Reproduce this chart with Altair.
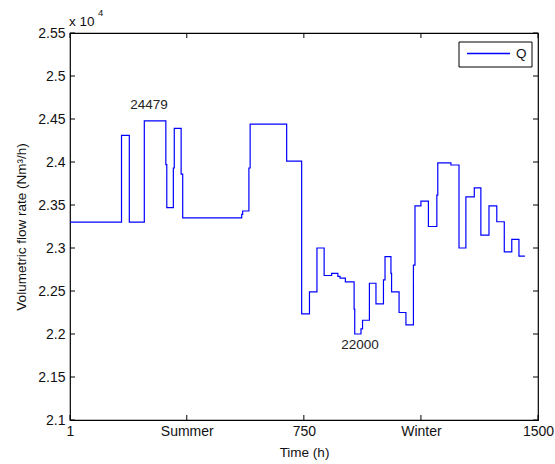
import altair as alt
import pandas as pd

# Step series (hour at which each level starts)
hours = [1, 166, 191, 239, 308, 311, 332, 335, 357, 362,
         551, 554, 574, 578, 695, 743, 768, 792, 815, 839,
         859, 866, 883, 911, 913, 933, 938, 960, 981, 1005,
         1010, 1029, 1031, 1055, 1077, 1101, 1106, 1125, 1149, 1176,
         1179, 1221, 1247, 1269, 1296, 1317, 1343, 1368, 1392, 1416,
         1439, 1458]
flow = [23300, 24310, 23300, 24479, 23970, 23470, 23930, 24390, 23860, 23350,
        23390, 23430, 23930, 24440, 24010, 22235, 22490, 23000, 22680, 22705,
        22670, 22650, 22605, 22290, 22000, 22060, 22160, 22590, 22350, 22630,
        22900, 22705, 22490, 22250, 22105, 22800, 23490, 23545, 23250, 23615,
        23990, 23965, 23000, 23595, 23700, 23150, 23490, 23305, 22955, 23100,
        22905, 22905]

x_ticks = [1, 375, 750, 1125, 1500]
x_tick_labels = ["1", "Summer", "750", "Winter", "1500"]
y_ticks = [21000, 21500, 22000, 22500, 23000, 23500, 24000, 24500, 25000, 25500]

ann_text = ["24479", "22000"]
ann_hour = [254, 930]
ann_val = [24665, 21870]

legend_label = ["Q"]

W, H = 468, 387
FONT = "Liberation Sans"
BLUE = "#0000ff"

df = pd.DataFrame({"hour": hours, "Q": flow})
xscale = alt.Scale(domain=[1, 1500], nice=False, zero=False)
yscale = alt.Scale(domain=[21000, 25500], nice=False, zero=False)

label_map = "{" + ",".join(f"'{v}':'{l}'" for v, l in zip(x_ticks, x_tick_labels)) + "}"

line = alt.Chart(df).mark_line(interpolate="step-after", color=BLUE, strokeWidth=1.2).encode(
    x=alt.X("hour:Q", scale=xscale,
            axis=alt.Axis(values=x_ticks, labelExpr=f"{label_map}[datum.value]",
                          title="Time (h)", ticks=False, domain=False, grid=False,
                          labelFont=FONT, labelFontSize=14, labelColor="#111",
                          labelPadding=4, labelFlush=False,
                          titleFont=FONT, titleFontSize=13.5, titleFontWeight="normal",
                          titleColor="#111", titleX=W / 2, titleY=32,
                          titleBaseline="middle")),
    y=alt.Y("Q:Q", scale=yscale,
            axis=alt.Axis(values=y_ticks, labelExpr="format(datum.value/10000, '~g')",
                          title="Volumetric flow rate (Nm³/h)", ticks=False, domain=False,
                          grid=False, labelFont=FONT, labelFontSize=14, labelColor="#111",
                          labelPadding=5, labelFlush=False,
                          titleFont=FONT, titleFontSize=13.5, titleFontWeight="normal",
                          titleColor="#111", titleX=-49, titleY=H / 2,
                          titleAngle=-90, titleAlign="center", titleBaseline="middle")),
)

xt = pd.DataFrame({"hour": x_ticks})
yt = pd.DataFrame({"Q": y_ticks})
tick_x_bot = alt.Chart(xt).mark_rule(color="black").encode(
    x=alt.X("hour:Q", scale=xscale), y=alt.value(H), y2=alt.value(H - 5))
tick_x_top = alt.Chart(xt).mark_rule(color="black").encode(
    x=alt.X("hour:Q", scale=xscale), y=alt.value(0), y2=alt.value(5))
tick_y_left = alt.Chart(yt).mark_rule(color="black").encode(
    y=alt.Y("Q:Q", scale=yscale), x=alt.value(0), x2=alt.value(5))
tick_y_right = alt.Chart(yt).mark_rule(color="black").encode(
    y=alt.Y("Q:Q", scale=yscale), x=alt.value(W - 5), x2=alt.value(W))

ann = alt.Chart(pd.DataFrame({"t": ann_text, "hour": ann_hour, "Q": ann_val})).mark_text(
    font=FONT, fontSize=13.5, color="#222", align="center", baseline="middle").encode(
    x=alt.X("hour:Q", scale=xscale), y=alt.Y("Q:Q", scale=yscale), text="t:N")

# exponent label
exp_base = alt.Chart(pd.DataFrame({"t": ["x 10"]})).mark_text(
    font=FONT, fontSize=13.5, color="#111", align="left", baseline="middle").encode(
    x=alt.value(-1), y=alt.value(-11), text="t:N")
exp_pow = alt.Chart(pd.DataFrame({"t": ["4"]})).mark_text(
    font=FONT, fontSize=9.5, color="#111", align="left", baseline="middle").encode(
    x=alt.value(28), y=alt.value(-20), text="t:N")

# legend box
leg_df = pd.DataFrame({"t": legend_label})
leg_box = alt.Chart(leg_df).mark_rect(
    fill="white", stroke="black", strokeWidth=1).encode(
    x=alt.value(389), x2=alt.value(462), y=alt.value(9), y2=alt.value(34))
leg_line = alt.Chart(leg_df).mark_rule(stroke=BLUE, strokeWidth=1.3, opacity=1).encode(
    x=alt.value(397), x2=alt.value(440), y=alt.value(20.5), y2=alt.value(20.5))
leg_text = alt.Chart(leg_df).mark_text(
    font=FONT, fontSize=13.5, color="#111", align="left", baseline="middle").encode(
    x=alt.value(446), y=alt.value(21), text="t:N")

chart = alt.layer(
    line, tick_x_bot, tick_x_top, tick_y_left, tick_y_right, ann,
    exp_base, exp_pow, leg_box, leg_line, leg_text
).properties(
    width=W, height=H,
    autosize=alt.AutoSizeParams(type="none"),
    padding={"left": 70, "top": 33, "right": 17, "bottom": 44},
    background="white",
).configure_view(stroke="black", strokeWidth=1.2)

chart.save("out.html", embed_options={"renderer": "svg", "actions": False})
